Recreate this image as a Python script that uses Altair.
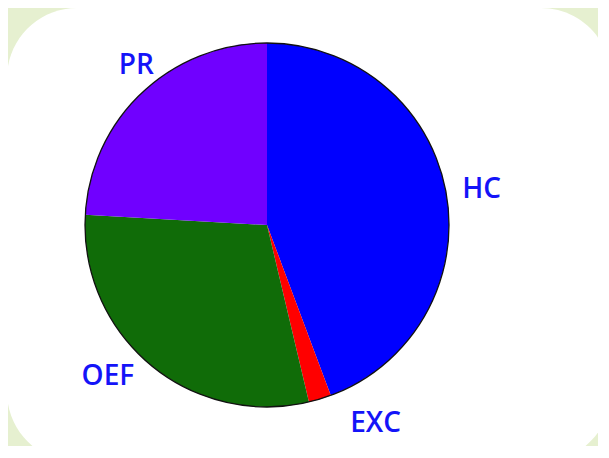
import altair as alt
import pandas as pd

categories = ["HC", "EXC", "OEF", "PR"]
values = [44.3, 2.0, 29.6, 24.1]
colors = ["#0000ff", "#ff0000", "#106c08", "#7000ff"]
order = [0, 1, 2, 3]

df = pd.DataFrame({"cat": categories, "val": values, "ord": order})

cx, cy, R = 259, 217, 182

panel = alt.Chart(pd.DataFrame({"a": [0]})).mark_rect(
    fill="white", cornerRadius=70
).encode(
    x=alt.value(-1), x2=alt.value(603), y=alt.value(0), y2=alt.value(454)
)

theta = alt.Theta("val:Q", stack=True)
color = alt.Color("cat:N", scale=alt.Scale(domain=categories, range=colors), legend=None)

pie = alt.Chart(df).mark_arc(outerRadius=R, stroke=None).encode(
    theta=theta, color=color, order=alt.Order("ord:Q"),
    x=alt.value(cx), y=alt.value(cy)
)

outline = alt.Chart(pd.DataFrame({"a": [0]})).mark_arc(
    theta=0, theta2=6.2832, outerRadius=R, fillOpacity=0, stroke="#111111", strokeWidth=1.3
).encode(x=alt.value(cx), y=alt.value(cy))

font = "Comic Sans MS, Open Sans"
# label nudges (dx, dy) in pixels, a styling choice per label
nudges = {"HC": (3, 3), "EXC": (46, -7), "OEF": (-21, -13), "PR": (17, -3)}

label_layers = []
for cat in categories:
    ddx, ddy = nudges[cat]
    label_layers.append(
        alt.Chart(df).mark_text(
            radius=215, fontSize=28, fontWeight=600, font=font, color="#1414f8",
            align="center", baseline="middle", dx=ddx, dy=ddy
        ).encode(
            theta=theta, order=alt.Order("ord:Q"),
            text=alt.condition(alt.datum.cat == cat, "cat:N", alt.value("")),
            x=alt.value(cx), y=alt.value(cy)
        )
    )

chart = alt.layer(panel, pie, outline, *label_layers).properties(
    width=590, height=438, padding=0, autosize=alt.AutoSizeParams(type="none"),
    background="#e6f0d0"
).configure_view(stroke=None)

chart.save("out.html", embed_options={"renderer": "svg", "actions": False})
